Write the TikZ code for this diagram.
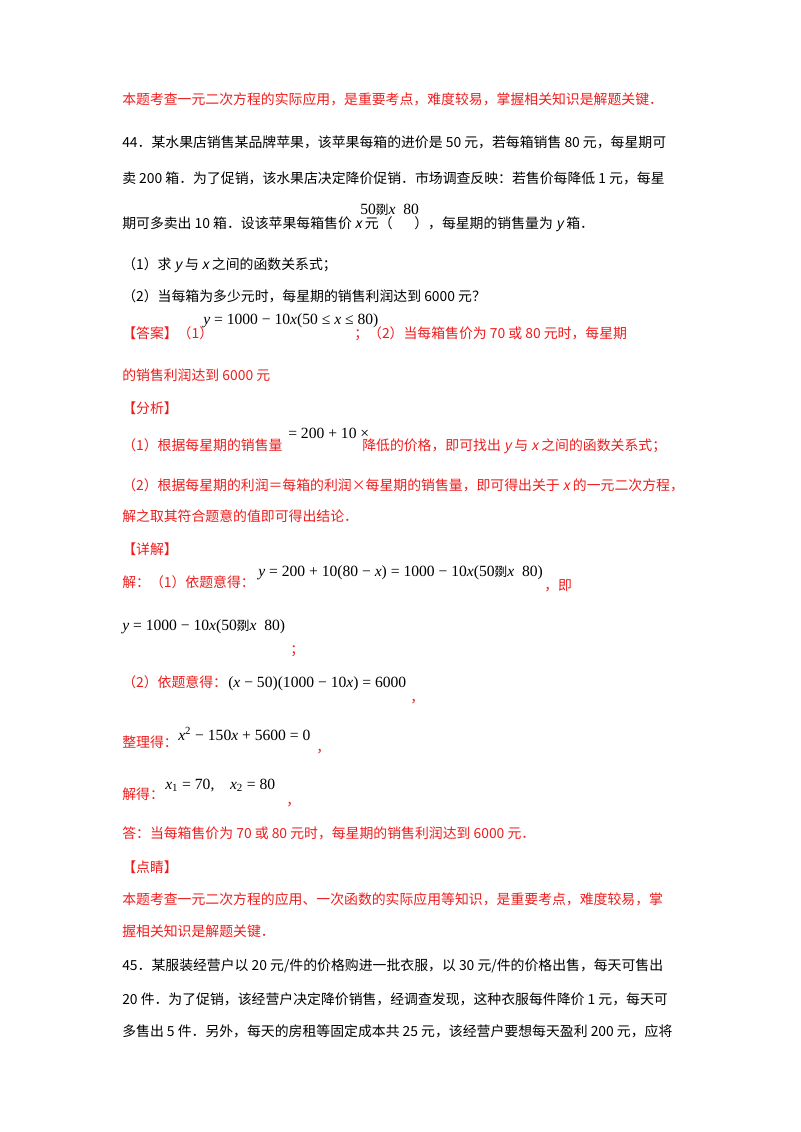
\documentclass[tikz,border=0pt]{standalone}
\usepackage{fontspec}
\setmainfont{Noto Sans CJK SC}[ItalicFont=Noto Sans CJK SC,ItalicFeatures={FakeSlant=0.2}]
\newfontfamily\tm{Liberation Serif}
\definecolor{rd}{RGB}{238,28,28}
\newcommand\myvx[1]{\textit{#1}}
\newcommand\mygarb{{\fontspec{Noto Sans CJK SC}\fontsize{9.5pt}{12pt}\selectfont 剟}}
\begin{document}
\begin{tikzpicture}[x=0.75pt,y=-0.75pt,
 t/.style={anchor=base west,inner sep=0pt,font=\fontsize{10.4pt}{12pt}\selectfont},
 r/.style={t,text=rd},
 m/.style={anchor=base west,inner sep=0pt,font=\tm\fontsize{11.7pt}{14pt}\selectfont}]
\useasboundingbox (0,0) rectangle (800,1132);
\node[r] (l1) at (122,104) {本题考查一元二次方程的实际应用，是重要考点，难度较易，掌握相关知识是解题关键．};
\node[t] (l2) at (122,147) {44．某水果店销售某品牌苹果，该苹果每箱的进价是 50 元，若每箱销售 80 元，每星期可};
\node[t] (l3) at (122,183) {卖 200 箱．为了促销，该水果店决定降价促销．市场调查反映：若售价每降低 1 元，每星};
\node[t] (l4a) at (122,228) {期可多卖出 10 箱．设该苹果每箱售价 \myvx{x} 元（};
\node[m] (l4m) at (360,214) {50\mygarb\myvx{x}\ \ 80};
\node[t] (l4b) at (414,228) {），每星期的销售量为 \myvx{y} 箱．};
\node[t] (l5) at (122,269) {（1）求 \myvx{y} 与 \myvx{x} 之间的函数关系式；};
\node[t] (l6) at (122,301) {（2）当每箱为多少元时，每星期的销售利润达到 6000 元？};
\node[r] (l7a) at (122,338) {【答案】（1）};
\node[m] (l7m) at (203,324) {\myvx{y} = 1000 − 10\myvx{x}(50 ≤ \myvx{x} ≤ 80)};
\node[r] (l7b) at (354,338) {；（2）当每箱售价为 70 或 80 元时，每星期};
\node[r] (l8) at (122,380) {的销售利润达到 6000 元};
\node[r] (l9) at (122,413) {【分析】};
\node[r] (l10a) at (122,450) {（1）根据每星期的销售量};
\node[m] (l10m) at (288,438) {= 200 + 10 ×};
\node[r] (l10b) at (362,450) {降低的价格，即可找出 \myvx{y} 与 \myvx{x} 之间的函数关系式；};
\node[r] (l11) at (122,490) {（2）根据每星期的利润＝每箱的利润×每星期的销售量，即可得出关于 \myvx{x} 的一元二次方程，};
\node[r] (l12) at (122,521) {解之取其符合题意的值即可得出结论．};
\node[r] (l13) at (122,554) {【详解】};
\node[r] (l14a) at (122,587) {解：（1）依题意得：};
\node[m] (l14m) at (258,576) {\myvx{y} = 200 + 10(80 − \myvx{x}) = 1000 − 10\myvx{x}(50\mygarb\myvx{x}\ \ 80)};
\node[r] (l14b) at (544,590) {，即};
\node[m] (l15m) at (122,630) {\myvx{y} = 1000 − 10\myvx{x}(50\mygarb\myvx{x}\ \ 80)};
\node[r] (l15b) at (290,654) {；};
\node[r] (l16a) at (122,687) {（2）依题意得：};
\node[m] (l16m) at (228,687) {(\myvx{x} − 50)(1000 − 10\myvx{x}) = 6000};
\node[r] (l16b) at (410,702) {，};
\node[r] (l17a) at (122,747) {整理得：};
\node[m] (l17m) at (178,740) {\myvx{x}\textsuperscript{2} − 150\myvx{x} + 5600 = 0};
\node[r] (l17b) at (316,752) {，};
\node[r] (l18a) at (122,799) {解得：};
\node[m] (l18m) at (165,789) {\myvx{x}\textsubscript{1} = 70,\quad \myvx{x}\textsubscript{2} = 80};
\node[r] (l18b) at (286,805) {，};
\node[r] (l19) at (122,838) {答：当每箱售价为 70 或 80 元时，每星期的销售利润达到 6000 元．};
\node[r] (l20) at (122,872) {【点睛】};
\node[r] (l21) at (122,904) {本题考查一元二次方程的应用、一次函数的实际应用等知识，是重要考点，难度较易，掌};
\node[r] (l22) at (122,936) {握相关知识是解题关键．};
\node[t] (l23) at (122,970) {45．某服装经营户以 20 元/件的价格购进一批衣服，以 30 元/件的价格出售，每天可售出};
\node[t] (l24) at (122,1004) {20 件．为了促销，该经营户决定降价销售，经调查发现，这种衣服每件降价 1 元，每天可};
\node[t] (l25) at (122,1036) {多售出 5 件．另外，每天的房租等固定成本共 25 元，该经营户要想每天盈利 200 元，应将};
\end{tikzpicture}
\end{document}
